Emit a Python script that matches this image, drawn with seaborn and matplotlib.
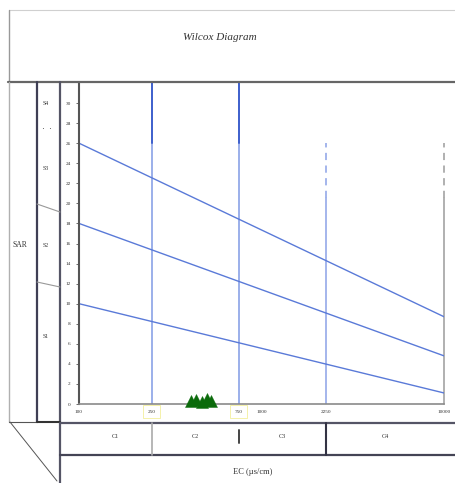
import matplotlib
matplotlib.use("Agg")
import matplotlib.pyplot as plt
import matplotlib.transforms as mtransforms
from matplotlib.lines import Line2D
from matplotlib.ticker import NullLocator, FixedLocator, FixedFormatter
import numpy as np
import pandas as pd
import seaborn as sns

# Salinity-hazard class limits on the EC axis (µS/cm)
ec_bounds = [100, 250, 750, 2250, 10000]
ec_ticks = [100, 250, 750, 1000, 2250, 10000]
ec_tick_labels = ["100", "250", "750", "1000", "2250", "10000"]
salinity_classes = ["C1", "C2", "C3", "C4"]

# Sodium-hazard class limits: SAR at EC = 100 and at EC = 10000
boundary_names = ["S3/S4", "S2/S3", "S1/S2"]
sar_at_100 = [26.0, 18.0, 10.0]
sar_at_10000 = [8.7, 4.8, 1.1]

sodium_classes = ["S4", "S3", "S2", "S1"]
sodium_label_sar = [30.0, 23.5, 15.8, 6.7]
sar_ticks = list(range(0, 31, 2))

# Water samples
sample_ec = [411, 438, 472, 503, 529]
sample_sar = [0.3, 0.4, 0.2, 0.45, 0.3]

W, H = 456, 483

sns.set_style("white")
plt.rcParams["font.family"] = ["Liberation Serif", "DejaVu Serif"]

fig = plt.figure(figsize=(W / 100, H / 100), dpi=100)
fig.patch.set_facecolor("white")


def px(x, y):
    """Pixel position (from top-left) to figure fraction."""
    return x / W, 1 - y / H


l, b = px(79, 404)
r, t = px(444, 83)
ax = fig.add_axes([l, b, r - l, t - b])

# Boundary lines as a long table
rows = []
for name, y0, y1 in zip(boundary_names, sar_at_100, sar_at_10000):
    rows.append({"line": name, "EC": ec_bounds[0], "SAR": y0})
    rows.append({"line": name, "EC": ec_bounds[-1], "SAR": y1})
lines_df = pd.DataFrame(rows)

line_blue = "#5a7ad8"
sns.lineplot(data=lines_df, x="EC", y="SAR", hue="line",
             palette=[line_blue] * len(boundary_names), estimator=None,
             linewidth=1.0, legend=False, ax=ax)

samples_df = pd.DataFrame({"EC": sample_ec, "SAR": sample_sar})
sns.scatterplot(data=samples_df, x="EC", y="SAR", marker="^", s=75,
                color="#0b6b0b", edgecolor="#0b6b0b", linewidth=0.3,
                ax=ax, zorder=5, clip_on=False)

ax.set_xscale("log")
ax.set_xlim(ec_bounds[0], ec_bounds[-1])
ax.set_ylim(0, 32)
ax.set_xlabel("")
ax.set_ylabel("")

# Salinity class dividers inside the plot
split = 26.0 / 32
for ec in ec_bounds[1:3]:
    ax.axvline(ec, ymin=0, ymax=split, color="#8aa2e6", lw=1.2, zorder=1)
    ax.axvline(ec, ymin=split, ymax=1, color="#3d5fcc", lw=1.4, zorder=1)
ax.axvline(ec_bounds[3], ymin=0, ymax=20.5 / 32, color="#9db0ea", lw=1.3, zorder=1)
ax.axvline(ec_bounds[3], ymin=20.5 / 32, ymax=split, color="#9db0ea", lw=1.3,
           ls=(0, (4, 3)), zorder=1)
ax.axvline(ec_bounds[4], ymin=0, ymax=20.5 / 32, color="#aaaaaa", lw=1.3,
           zorder=1, clip_on=False)
ax.axvline(ec_bounds[4], ymin=20.5 / 32, ymax=split, color="#aaaaaa", lw=1.3,
           ls=(0, (4, 3)), zorder=1, clip_on=False)

# Axes styling
for side in ["top", "right"]:
    ax.spines[side].set_visible(False)
ax.spines["left"].set_color("#555555")
ax.spines["left"].set_linewidth(1.5)
ax.spines["bottom"].set_color("#8a8a8a")
ax.spines["bottom"].set_linewidth(1.2)

ax.xaxis.set_minor_locator(NullLocator())
ax.xaxis.set_major_locator(FixedLocator(ec_ticks))
ax.xaxis.set_major_formatter(FixedFormatter(ec_tick_labels))
ax.yaxis.set_major_locator(FixedLocator(sar_ticks))
ax.tick_params(axis="x", length=0, pad=4, labelsize=3.8, labelcolor="#333333")
ax.tick_params(axis="y", length=2, width=0.6, color="#555555", pad=4,
               labelsize=3.8, labelcolor="#333333", left=True)
for lab in ax.get_xticklabels():
    if lab.get_text() in ("250", "750"):
        lab.set_bbox(dict(boxstyle="square,pad=0.9", fc="none",
                          ec="#f3ef9c", lw=0.6))

# Frame of the diagram (figure pixel coordinates)
def seg(x0, y0, x1, y1, color="#555555", lw=1.0, **kw):
    (a, b_), (c, d) = px(x0, y0), px(x1, y1)
    fig.add_artist(Line2D([a, c], [b_, d], color=color, lw=lw,
                          transform=fig.transFigure, **kw))

seg(9, 10, W, 10, color="#d0d0d0", lw=0.8)
seg(9, 10, 9, 81, color="#999999", lw=1.0)
seg(8, 82, W, 82, color="#666666", lw=1.6)
seg(9, 82, 9, 422, color="#b0b0b0", lw=1.0)
seg(37, 82, 37, 422, color="#3f3f55", lw=1.6)
seg(60, 82, 60, H, color="#555566", lw=1.6)
seg(9, 422, 37, 422, color="#555555", lw=0.8)
seg(37, 422, 60, 422, color="#333333", lw=1.5)
seg(60, 423, W, 423, color="#555566", lw=1.6)
seg(60, 455, W, 455, color="#444455", lw=1.6)
seg(10, 422, 57, 481, color="#555555", lw=0.7)
seg(37, 204, 60, 212, color="#999999", lw=0.8)
seg(37, 282, 60, 287, color="#999999", lw=0.8)

# Salinity class row below the plot
blend = mtransforms.blended_transform_factory(ax.transData, fig.transFigure)
_, y_top = px(0, 423)
_, y_bot = px(0, 455)
_, y_mid_a = px(0, 430)
_, y_mid_b = px(0, 443)
fig.add_artist(Line2D([ec_bounds[1]] * 2, [y_top, y_bot], color="#aaaaaa",
                      lw=1.2, transform=blend))
fig.add_artist(Line2D([ec_bounds[2]] * 2, [y_mid_a, y_mid_b], color="#444444",
                      lw=1.4, transform=blend))
fig.add_artist(Line2D([ec_bounds[3]] * 2, [y_top, y_bot], color="#333344",
                      lw=1.5, transform=blend))
_, y_c = px(0, 437)
for cls, lo, hi in zip(salinity_classes, ec_bounds[:-1], ec_bounds[1:]):
    fig.text(np.sqrt(lo * hi), y_c, cls, transform=blend, ha="center",
             va="center", fontsize=4.5, color="#333333")

# Sodium class labels in the left column
blend_y = mtransforms.blended_transform_factory(fig.transFigure, ax.transData)
for cls, s in zip(sodium_classes, sodium_label_sar):
    fig.text(46 / W, s, cls, transform=blend_y, ha="center", va="center",
             fontsize=4.2, color="#333333")
fig.text(*px(47, 129), "·  ·", ha="center", va="center", fontsize=6,
         color="#333333")

fig.text(*px(20, 245), "SAR", ha="center", va="center", fontsize=5.5,
         color="#333333")
fig.text(*px(253, 472), "EC (µs/cm)", ha="center", va="center", fontsize=6,
         color="#333333")
fig.text(*px(220, 38), "Wilcox Diagram", ha="center", va="center",
         fontsize=8, style="italic", color="#333333")

fig.savefig("out.png", dpi=100, facecolor="white")
